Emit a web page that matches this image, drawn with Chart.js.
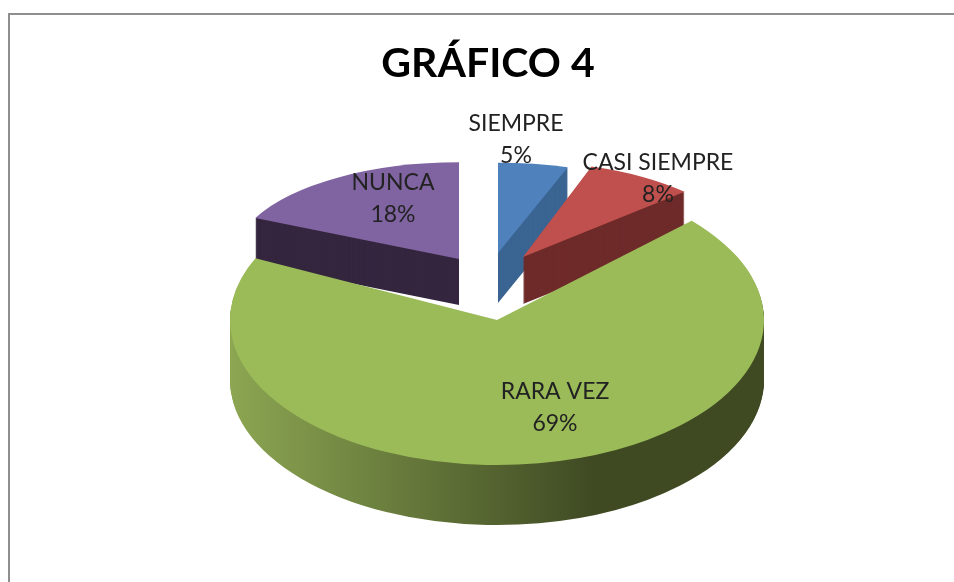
<!DOCTYPE html>
<html lang="es">
<head>
<meta charset="utf-8">
<title>GRÁFICO 4</title>
<script src="https://cdn.jsdelivr.net/npm/chart.js@4/dist/chart.umd.min.js"></script>
<style>
    html, body { margin: 0; padding: 0; background: #fff; overflow: hidden; }
    #marco {
        position: absolute; left: 8px; top: 13px;
        width: 946px; height: 569px; box-sizing: border-box;
        border-left: 2px solid #8e8e8e; border-top: 2px solid #8e8e8e;
    }
    canvas { display: block; }
</style>
</head>
<body>
<div id="marco"><canvas id="grafico" width="944" height="567"></canvas></div>
<script>
const categorias = ["SIEMPRE", "CASI SIEMPRE", "RARA VEZ", "NUNCA"];
const porcentajes = [5, 8, 69, 18];

const coloresSuperficie = ["#4f81bd", "#c0504d", "#9bbb59", "#8064a2"];
const coloresLado = ["#3a6491", "#6e2b2a", null, "#35263f"];

// Vista de cada porción: desplazamiento desde el centro, tamaño, aplastado y grosor
const vistas = [
    { dx: 10, dy: -27, escala: 0.846, aplastado: 0.40, grosor: 50 },
    { dx: 35, dy: -23, escala: 0.83, aplastado: 0.43, grosor: 47 },
    { dx: 9, dy: 40, escala: 1, aplastado: 0.543, grosor: 60 },
    { dx: -29, dy: -21, escala: 0.843, aplastado: 0.43, grosor: 46 }
];
// Posición del texto respecto al vértice de cada porción
const etiquetas = [
    { dx: 18, dy: -114 },
    { dx: 135, dy: -79 },
    { dx: 58, dy: 87 },
    { dx: -66, dy: -61 }
];
const ordenDibujo = [3, 0, 1, 2]; // La porción verde queda delante

function colocar(ctx, arco, vista, extra) {
    ctx.translate(arco.x + vista.dx, arco.y + vista.dy + extra);
    ctx.scale(vista.escala, vista.escala * vista.aplastado);
    ctx.translate(-arco.x, -arco.y);
}

function degradadoLado(ctx, arco) {
    const r = arco.outerRadius;
    const g = ctx.createLinearGradient(arco.x - r, 0, arco.x + r, 0);
    g.addColorStop(0, "#8ca652");
    g.addColorStop(0.68, "#3f4a23");
    g.addColorStop(1, "#3f4a23");
    return g;
}

const pastel3d = {
    id: "pastel3d",
    beforeDatasetsDraw(chart) {
        const ctx = chart.ctx;
        const arcos = chart.getDatasetMeta(0).data;

        ordenDibujo.forEach(i => {
            const arco = arcos[i];
            const vista = vistas[i];
            const opciones = arco.options;

            // Lado de la porción: se repite el arco hacia abajo
            arco.options = { ...opciones, backgroundColor: coloresLado[i] || degradadoLado(ctx, arco) };
            for (let d = vista.grosor; d > 0; d--) {
                ctx.save();
                colocar(ctx, arco, vista, d);
                arco.draw(ctx);
                ctx.restore();
            }
            arco.options = opciones;

            // Superficie
            ctx.save();
            colocar(ctx, arco, vista, 0);
            arco.draw(ctx);
            ctx.restore();
        });

        // Textos
        ctx.save();
        ctx.fillStyle = "#222";
        ctx.font = "23px Lato";
        ctx.textAlign = "center";
        ctx.textBaseline = "middle";
        categorias.forEach((nombre, i) => {
            const x = arcos[i].x + vistas[i].dx + etiquetas[i].dx;
            const y = arcos[i].y + vistas[i].dy + etiquetas[i].dy;
            ctx.fillText(nombre, x, y - 16);
            ctx.fillText(porcentajes[i] + "%", x, y + 16);
        });
        ctx.restore();
        return false; // Ya dibujado aquí
    }
};

new Chart(document.getElementById("grafico"), {
    type: "pie",
    data: {
        labels: categorias,
        datasets: [{
            data: porcentajes,
            backgroundColor: coloresSuperficie,
            borderWidth: 0,
            radius: 267
        }]
    },
    options: {
        responsive: false,
        animation: false,
        layout: { padding: { left: 12, bottom: 115 } },
        plugins: {
            legend: { display: false },
            tooltip: { enabled: false },
            title: {
                display: true,
                text: "GRÁFICO 4",
                color: "#000",
                font: { family: "Lato", size: 41, weight: "bold" },
                padding: { top: 24, bottom: 5 }
            }
        }
    },
    plugins: [pastel3d]
});
</script>
</body>
</html>
